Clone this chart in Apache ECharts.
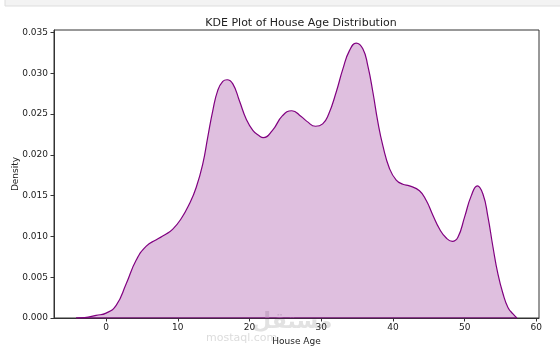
<!DOCTYPE html>
<html>
<head>
<meta charset="utf-8">
<script src="https://cdn.jsdelivr.net/npm/echarts@6/dist/echarts.min.js"></script>
<style>html,body{margin:0;padding:0;background:#fff}#c{width:560px;height:352px}</style>
</head>
<body>
<div id="c"></div>
<script>
const ages = [-4.2, -3.0, -1.4, 0, 1.4, 2.8, 4.2, 5.6, 7.0, 8.2, 9.3, 10.46, 11.62, 12.56, 13.48, 14.18, 14.87, 15.57, 16.27, 16.88, 17.67, 18.6, 19.53, 20.46, 21.39, 21.9, 23.2, 24.6, 25.9, 27.2, 28.0, 29.2, 30.2, 31.0, 32.09, 33.01, 33.95, 34.88, 35.8, 36.5, 37.2, 37.9, 38.6, 39.53, 40.46, 41.38, 42.3, 43.7, 44.65, 45.57, 46.5, 47.44, 48.28, 49.06, 50.0, 50.93, 51.77, 52.55, 53.25, 53.95, 54.64, 55.34, 56.04, 56.74, 57.3];
const density = [0, 0.00005, 0.00033, 0.0006, 0.00155, 0.0042, 0.0071, 0.0088, 0.0096, 0.0102, 0.0109, 0.01216, 0.0140, 0.0160, 0.0189, 0.0222, 0.0254, 0.0279, 0.0290, 0.0292, 0.0287, 0.0266, 0.0244, 0.0230, 0.0223, 0.0221, 0.0230, 0.0248, 0.0254, 0.0247, 0.0241, 0.0235, 0.0238, 0.0249, 0.0277, 0.0305, 0.0328, 0.0337, 0.0330, 0.0309, 0.0277, 0.0240, 0.0211, 0.0183, 0.0169, 0.0164, 0.0162, 0.0156, 0.0144, 0.0126, 0.0109, 0.0098, 0.0094, 0.0099, 0.0124, 0.0150, 0.0162, 0.0152, 0.0124, 0.0087, 0.0054, 0.0030, 0.0013, 0.0005, 0];
const xTicks = [0, 10, 20, 30, 40, 50, 60];
const yTicks = [0, 0.005, 0.010, 0.015, 0.020, 0.025, 0.030, 0.035];
const titleText = 'KDE Plot of House Age Distribution';
const xName = 'House Age';
const yName = 'Density';

const chart = echarts.init(document.getElementById('c'), null, {renderer: 'canvas'});
const font = 'DejaVu Sans';
const pts = ages.map((a, i) => [a, density[i]]);
const baseLine = [[ages[0], 0], [ages[ages.length - 1], 0]];
chart.setOption({
  animation: false,
  backgroundColor: '#fff',
  title: {
    text: titleText, left: 296, top: 13, textAlign: 'center',
    textStyle: {fontFamily: font, fontSize: 11, fontWeight: 'normal', color: '#222'}
  },
  grid: {left: 54, right: 21, top: 30, bottom: 34, containLabel: false, outerBoundsMode: 'none',
    show: true, borderColor: '#333', borderWidth: 1, backgroundColor: 'transparent'},
  xAxis: {
    type: 'value', min: -7.27, max: 60.37,
    name: xName, nameLocation: 'middle', nameGap: 19, nameMoveOverlap: false,
    nameTextStyle: {fontFamily: font, fontSize: 9, color: '#222'},
    splitLine: {show: false},
    axisLine: {show: true, onZero: false, lineStyle: {color: '#333', width: 1}},
    axisTick: {show: true, length: 3.5, lineStyle: {color: '#333'}, customValues: xTicks},
    axisLabel: {fontFamily: font, fontSize: 9, color: '#222', margin: 5, customValues: xTicks, formatter: v => String(v)}
  },
  yAxis: {
    type: 'value', min: 0, max: 0.0353,
    name: yName, nameLocation: 'middle', nameGap: 34, nameRotate: 90, nameMoveOverlap: false,
    nameTextStyle: {fontFamily: font, fontSize: 9, color: '#222'},
    splitLine: {show: false},
    axisLine: {show: true, onZero: false, lineStyle: {color: '#333', width: 1}},
    axisTick: {show: true, length: 3.5, lineStyle: {color: '#333'}, customValues: yTicks},
    axisLabel: {fontFamily: font, fontSize: 9, color: '#222', margin: 6, customValues: yTicks, formatter: v => v.toFixed(3)}
  },
  graphic: [
    {type: 'rect', shape: {x: 5, y: -1, width: 560, height: 7}, style: {fill: '#f3f3f3', stroke: '#dddddd', lineWidth: 1}, z: 0},
    {type: 'text', left: 252, top: 311, style: {text: 'مستقل', font: 'bold 22px "Noto Sans", "DejaVu Sans"', fill: '#e2e2e2'}, z: 0},
    {type: 'text', left: 206, top: 333, style: {text: 'mostaql.com', font: '11px "DejaVu Sans"', fill: '#dcdcdc'}, z: 0}
  ],
  series: [
    {
      type: 'line', data: pts, smooth: 0.5, showSymbol: false, symbol: 'none',
      lineStyle: {color: 'purple', width: 1.2},
      areaStyle: {color: 'purple', opacity: 0.25, origin: 'start'},
      z: 3
    },
    {
      type: 'line', data: baseLine, showSymbol: false, symbol: 'none',
      lineStyle: {color: 'purple', width: 1.2}, z: 4
    }
  ]
});
</script>
</body>
</html>
